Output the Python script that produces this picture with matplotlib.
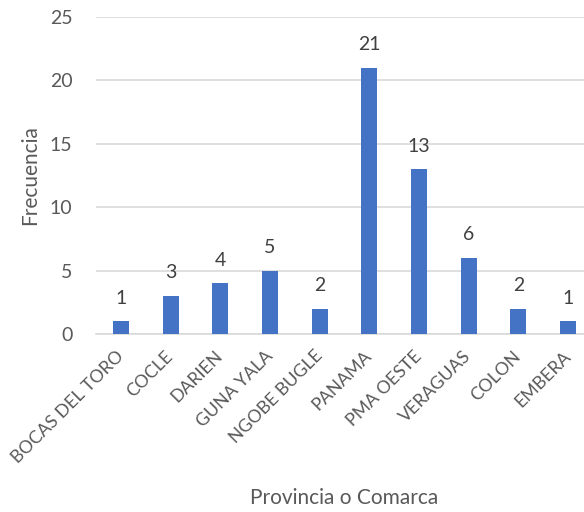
import matplotlib
matplotlib.use("Agg")
import matplotlib.pyplot as plt
import numpy as np

provincias = ['BOCAS DEL TORO', 'COCLE', 'DARIEN', 'GUNA YALA', 'NGOBE BUGLE',
              'PANAMA', 'PMA OESTE', 'VERAGUAS', 'COLON', 'EMBERA']
frecuencia = [1, 3, 4, 5, 2, 21, 13, 6, 2, 1]
yticks = [0, 5, 10, 15, 20, 25]

plt.rcParams['font.family'] = ['Lato', 'DejaVu Sans']
texto = '#595959'

fig = plt.figure(figsize=(5.84, 5.12), dpi=100)
ax = fig.add_axes([0.1644, 0.3477, 0.851, 0.619])

x = np.arange(len(provincias))
ax.bar(x, frecuencia, width=0.32, color='#4472C4', zorder=3)
for xi, v in zip(x, frecuencia):
    ax.text(xi, v + 1.15, str(v), ha='center', va='bottom', fontsize=14, color='#404040')

ax.set_xlim(-0.5, len(provincias) - 0.5)
ax.set_ylim(0, 25)
ax.set_yticks(yticks)
ax.set_xticks(x)
ax.set_xticklabels(provincias, rotation=45, ha='right', va='center',
                   rotation_mode='anchor', fontsize=12.8, color=texto)
ax.tick_params(axis='y', labelsize=14, labelcolor=texto, length=0, pad=17)
ax.tick_params(axis='x', length=0, pad=14)
ax.grid(axis='y', color='#D9D9D9', linewidth=1.2, zorder=0)
for s in ['top', 'right', 'left']:
    ax.spines[s].set_visible(False)
ax.spines['bottom'].set_color('#D9D9D9')
ax.spines['bottom'].set_linewidth(1.2)

ax.set_ylabel('Frecuencia', fontsize=15, color=texto, labelpad=7)
fig.text(0.59, 0.015, 'Provincia o Comarca', ha='center', fontsize=15, color=texto)

fig.savefig('out.png', dpi=100)
